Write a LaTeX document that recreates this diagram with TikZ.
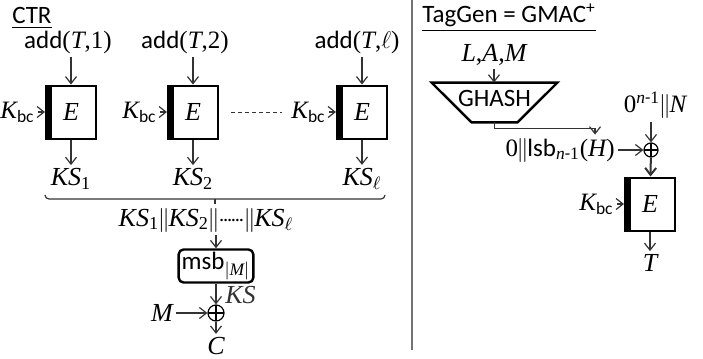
\documentclass[tikz,border=0pt]{standalone}
\usepackage{amsmath}
\usepackage[no-math]{fontspec}
\setmainfont{Carlito}
\newfontfamily\tms{Liberation Serif}[NFSSFamily=tms]
% Times-like letters and digits in math
\DeclareSymbolFont{tmsit}{TU}{tms}{m}{it}
\DeclareSymbolFont{tmsrm}{TU}{tms}{m}{n}
\DeclareMathSymbol{A}{\mathalpha}{tmsit}{`A}
\DeclareMathSymbol{C}{\mathalpha}{tmsit}{`C}
\DeclareMathSymbol{E}{\mathalpha}{tmsit}{`E}
\DeclareMathSymbol{H}{\mathalpha}{tmsit}{`H}
\DeclareMathSymbol{K}{\mathalpha}{tmsit}{`K}
\DeclareMathSymbol{L}{\mathalpha}{tmsit}{`L}
\DeclareMathSymbol{M}{\mathalpha}{tmsit}{`M}
\DeclareMathSymbol{N}{\mathalpha}{tmsit}{`N}
\DeclareMathSymbol{S}{\mathalpha}{tmsit}{`S}
\DeclareMathSymbol{T}{\mathalpha}{tmsit}{`T}
\DeclareMathSymbol{n}{\mathalpha}{tmsit}{`n}
\DeclareMathSymbol{0}{\mathalpha}{tmsrm}{`0}
\DeclareMathSymbol{1}{\mathalpha}{tmsrm}{`1}
\DeclareMathSymbol{2}{\mathalpha}{tmsrm}{`2}
\DeclareMathSymbol{(}{\mathopen}{tmsrm}{`(}
\DeclareMathSymbol{)}{\mathclose}{tmsrm}{`)}
\DeclareMathSymbol{,}{\mathord}{tmsrm}{`,}
\usetikzlibrary{arrows.meta,positioning}

\newcommand{\dotrun}{\mathord{\cdot}\mkern-2mu\mathord{\cdot}\mkern-2mu\mathord{\cdot}%
  \mkern-2mu\mathord{\cdot}\mkern-2mu\mathord{\cdot}\mkern-2mu\mathord{\cdot}}
\newcommand{\cc}{\mkern-1mu\|\mkern-1mu}

\tikzset{
  % block cipher call, thick bar on the key side
  ebox/.style={draw, line width=1pt, minimum width=25pt, minimum height=26.5pt,
    inner sep=0pt, font=\fontsize{13}{14}\selectfont,
    path picture={\fill (path picture bounding box.north west)
      rectangle ([xshift=3pt]path picture bounding box.south west);}},
  xorop/.style={circle, draw, line width=0.6pt, minimum size=#1, inner sep=0pt,
    path picture={\draw[line width=0.6pt]
      (path picture bounding box.north) -- (path picture bounding box.south)
      (path picture bounding box.west) -- (path picture bounding box.east);}},
  xorop/.default=8pt,
  msbbox/.style={draw, line width=1.2pt, rounded corners=2.5pt,
    minimum width=32pt, minimum height=13pt, inner sep=1.5pt},
  lbl/.style={inner sep=1.5pt},
  big/.style={font=\fontsize{13}{14}\selectfont},
  conn/.style={->, line width=0.6pt, black!80},
}

\begin{document}
\begin{tikzpicture}[x=0.5pt, y=-0.5pt, >={Straight Barb[length=3.5pt,width=5.5pt]},
    font=\fontsize{12.5}{14}\selectfont]
    \useasboundingbox (0,0) rectangle (703,359);

    % ---------- CTR ----------
    \node[anchor=west, lbl] (ctr) at (9,18) {\underline{CTR}};

    % keystream blocks: box x / label x / index
    \foreach \x/\tx/\i/\lbl in {71/68/1/1, 193/185/2/2, 362/357/3/\ell}{
        \node[ebox] (e\i) at (\x,112) {$E$};
        \node[lbl] (in\i) at (\tx,42) {add$(T,\lbl)$};
        \node[lbl, left=3.5pt of e\i] (k\i) {$K_{\text{bc}}$};
        \node[lbl, big] (ks\i) at (\x,179) {$KS_{\lbl}$};
        \draw[conn] (in\i.south -| e\i.north) -- (e\i.north);
        \draw[conn] (k\i) -- (e\i);
        \draw[conn] (e\i) -- (ks\i);
    }
    \draw[black!80, dash pattern=on 2pt off 1.5pt, line width=0.5pt]
        ([xshift=6pt]e2.east) -- ([xshift=-3pt]k3.west);

    % brace over the blocks
    \coordinate (br) at (215,204);
    \draw[black!80, line width=0.6pt] (45,195) to[out=-90,in=180] (49,199)
        -- (381,199) to[out=0,in=-90] (385,195);
    \draw[black!80, line width=0.8pt] (215,199) -- (br);

    \node[lbl, big] (cat) at (206,220) {$KS_1\cc KS_2\cc\dotrun\cc KS_\ell$};
    \node[msbbox] (msb) at (216,266) {msb$_{|M|}$};
    \node[xorop] (x1) at (216,313) {};
    \node[lbl, big] (m) at (162,313) {$M$};
    \node[lbl, big] (c) at (216,346) {$C$};

    \draw[conn] (cat.south -| msb.north) -- (msb.north);
    \draw[conn] (msb) -- node[right=1pt, pos=0.55, big] {$KS$} (x1);
    \draw[conn] (m) -- (x1);
    \draw[conn] (x1) -- (c);

    % separator
    \draw[black!55, line width=1pt] (412,0) -- (412,350);

    % ---------- TagGen ----------
    \node[anchor=west, lbl] (tg) at (419,18) {\underline{TagGen = GMAC\textsuperscript{+}}};
    \node[lbl, big] (lam) at (494,55) {$L,A,M$};

    \node[minimum width=62.5pt, minimum height=19.5pt, inner sep=0pt] (gh)
        at (494.5,102.5) {};
    \draw[line width=1.2pt] (gh.north west) -- (gh.north east)
        -- ([xshift=-20pt]gh.south east) -- ([xshift=20pt]gh.south west) -- cycle;
    \node[inner sep=0pt, yshift=2pt] (ghtxt) at (gh.center) {GHASH};

    \node[lbl, anchor=east] (lsb) at (618,150) {$0\cc$lsb$_{n\text{-}1}(H)$};
    \node[xorop=7pt] (x2) at (651,150) {};
    \node[lbl] (nin) at (655,105) {$0^{n\text{-}1}\cc N$};
    \node[ebox] (e4) at (650,204) {$E$};
    \node[lbl, left=3.5pt of e4] (k4) {$K_{\text{bc}}$};
    \node[lbl, big] (t) at (650,263) {$T$};

    \draw[conn] (lam) -- (lam |- gh.north);
    \draw[conn] (gh.south) -- ++(0,6) -| ([xshift=17.5pt]lsb.north);
    \draw[conn] (lsb) -- (x2);
    \draw[conn] (nin.south -| x2.north) -- (x2);
    \draw[conn, line width=1pt] (x2) -- (e4);
    \draw[conn] (k4) -- (e4);
    \draw[conn] (e4) -- (t);
\end{tikzpicture}
\end{document}
